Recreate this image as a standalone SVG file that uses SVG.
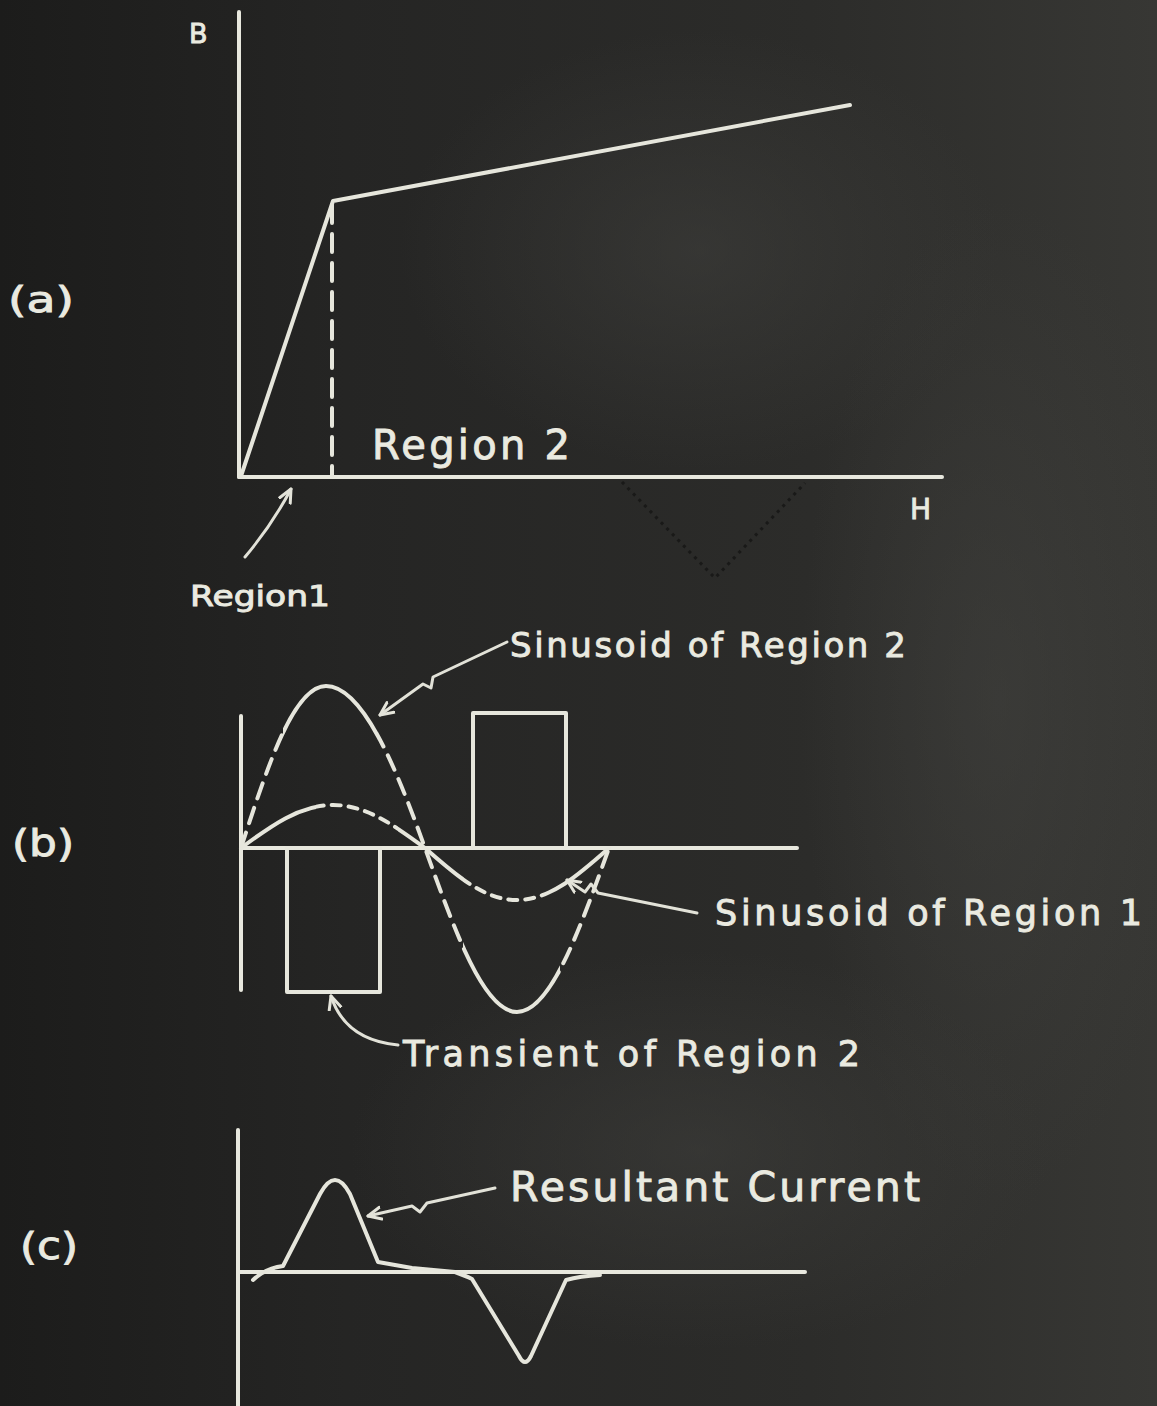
<svg xmlns="http://www.w3.org/2000/svg" width="1157" height="1406" viewBox="0 0 1157 1406">
<defs>
<linearGradient id="bg" x1="0" y1="0" x2="1" y2="0">
<stop offset="0" stop-color="#1c1c1b"/>
<stop offset="0.3" stop-color="#252524"/>
<stop offset="0.7" stop-color="#2c2c2a"/>
<stop offset="1" stop-color="#373734"/>
</linearGradient>
<radialGradient id="smudge1" cx="0.5" cy="0.5" r="0.5">
<stop offset="0" stop-color="#42423f" stop-opacity="0.5"/>
<stop offset="1" stop-color="#42423f" stop-opacity="0"/>
</radialGradient>
<marker id="ah" viewBox="-14 -8 16 16" markerWidth="16" markerHeight="16" refX="0" refY="0" orient="auto" markerUnits="userSpaceOnUse">
<path d="M-13,-6 L0,0 L-13,6" fill="none" stroke="#e4e4da" stroke-width="3" stroke-linecap="round" stroke-linejoin="round"/>
</marker>
<clipPath id="bigSolid"><rect x="283" y="600" width="95" height="450"/><rect x="463" y="600" width="97" height="450"/></clipPath>
<clipPath id="bigDash"><rect x="230" y="600" width="53" height="450"/><rect x="378" y="600" width="85" height="450"/><rect x="560" y="600" width="70" height="450"/></clipPath>
<clipPath id="smSolid"><rect x="230" y="700" width="86" height="300"/><rect x="398" y="700" width="66" height="300"/><rect x="548" y="700" width="80" height="300"/></clipPath>
<clipPath id="smDash"><rect x="316" y="700" width="82" height="300"/><rect x="464" y="700" width="84" height="300"/></clipPath>
</defs>
<style>
.ch{fill:none;stroke:#e6e6dc;stroke-width:4;stroke-linecap:round;stroke-linejoin:round}
.ax{fill:none;stroke:#e8e8de;stroke-width:4;stroke-linecap:round}
.cn{fill:none;stroke:#e2e2d8;stroke-width:3;stroke-linecap:round;stroke-linejoin:round}
.t{fill:#eaeae0;stroke:#eaeae0;stroke-width:0.9;font-family:"DejaVu Sans","Liberation Sans",sans-serif}
</style>
<rect width="1157" height="1406" fill="url(#bg)"/>
<ellipse cx="700" cy="250" rx="300" ry="220" fill="url(#smudge1)"/>
<ellipse cx="1000" cy="700" rx="200" ry="500" fill="url(#smudge1)"/>
<ellipse cx="700" cy="1150" rx="350" ry="200" fill="url(#smudge1)"/>

<g id="panel-a">
<text class="t" x="8" y="312" font-size="36" textLength="66" lengthAdjust="spacingAndGlyphs">(a)</text>
<line class="ax" x1="239" y1="12" x2="239" y2="477"/>
<line class="ax" x1="239" y1="477" x2="942" y2="477"/>
<text class="t" x="189" y="43" font-size="27">B</text>
<text class="t" x="910" y="519" font-size="28">H</text>
<polyline class="ch" points="241,476 333,201 850,105"/>
<line class="ch" x1="332" y1="205" x2="332" y2="476" stroke-dasharray="18 11" stroke-width="3.5"/>
<text class="t" x="372" y="459" font-size="40" textLength="198" lengthAdjust="spacing">Region 2</text>
<text class="t" x="190" y="606" font-size="28" textLength="140" lengthAdjust="spacingAndGlyphs">Region1</text>
<polyline points="622,482 715,578 805,483" fill="none" stroke="#151514" stroke-width="3" stroke-dasharray="3 5" opacity="0.8"/>
</g>

<g id="panel-b">
<text class="t" x="12" y="856" font-size="38" textLength="62" lengthAdjust="spacingAndGlyphs">(b)</text>
<line class="ax" x1="241" y1="716" x2="241" y2="990"/>
<line class="ax" x1="241" y1="848" x2="797" y2="848"/>
<rect class="ch" x="473" y="713" width="93" height="135" stroke-width="3.5"/>
<rect class="ch" x="287" y="848" width="93" height="144" stroke-width="3.5"/>
<g id="sinusoid-region-2">
<path class="ch" d="M241,848 C268,764.5 294,686 326,686 C362,686 395,764.5 425,848 C455,931.5 483.7,1012 517,1012 C550.3,1012 579,931.5 609,848" clip-path="url(#bigSolid)"/>
<path class="ch" d="M241,848 C268,764.5 294,686 326,686 C362,686 395,764.5 425,848 C455,931.5 483.7,1012 517,1012 C550.3,1012 579,931.5 609,848" clip-path="url(#bigDash)" stroke-dasharray="16 10"/>
</g>
<g id="sinusoid-region-1">
<path class="ch" d="M241,848 C271,825.8 299.7,805 333,805 C366.3,805 395,825.8 425,848 C455,874.6 483.7,900 517,900 C550.3,900 579,874.6 609,848" clip-path="url(#smSolid)"/>
<path class="ch" d="M241,848 C271,825.8 299.7,805 333,805 C366.3,805 395,825.8 425,848 C455,874.6 483.7,900 517,900 C550.3,900 579,874.6 609,848" clip-path="url(#smDash)" stroke-dasharray="9 8"/>
</g>
<text class="t" x="510" y="657" font-size="34" textLength="396" lengthAdjust="spacing">Sinusoid of Region 2</text>
<text class="t" x="715" y="925" font-size="35" textLength="427" lengthAdjust="spacing">Sinusoid of Region 1</text>
<text class="t" x="403" y="1066" font-size="35" textLength="457" lengthAdjust="spacing">Transient of Region 2</text>
</g>

<g id="panel-c">
<text class="t" x="20" y="1259" font-size="38" textLength="58" lengthAdjust="spacingAndGlyphs">(c)</text>
<line class="ax" x1="238" y1="1130" x2="238" y2="1406"/>
<line class="ax" x1="240" y1="1272" x2="805" y2="1272"/>
<path id="resultant" class="ch" d="M253,1280 Q266,1268 283,1266 L320,1194 Q335,1166 350,1194 L378,1262 Q395,1265 412,1268 L455,1272 Q466,1276 472,1279 L519,1356 Q525,1368 531,1356 L566,1280 Q580,1276 600,1275"/>
<text class="t" x="510" y="1201" font-size="41" textLength="410" lengthAdjust="spacing">Resultant Current</text>
</g>

<g id="connectors">
<path class="cn" d="M245,557 Q272,525 291,489" marker-end="url(#ah)"/>
<path class="cn" d="M507,642 L433,677 L431,688 L423,684 L380,715" marker-end="url(#ah)"/>
<path class="cn" d="M697,913 L598,893 L591,884 L585,892 L567,880" marker-end="url(#ah)"/>
<path class="cn" d="M398,1045 Q345,1040 331,996" marker-end="url(#ah)"/>
<path class="cn" d="M495,1188 L427,1203 L420,1212 L412,1206 L368,1216" marker-end="url(#ah)"/>
</g>
</svg>
